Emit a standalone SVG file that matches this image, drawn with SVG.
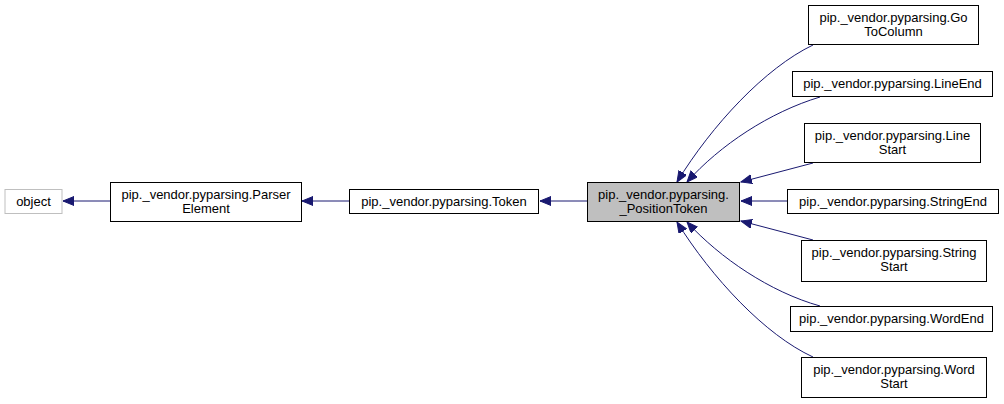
<svg xmlns="http://www.w3.org/2000/svg" width="1004" height="404" viewBox="0 0 1004 404">
<style>
  .box { fill: #ffffff; stroke: #000000; stroke-width: 1; }
  .gray { fill: #bfbfbf; stroke: #000000; stroke-width: 1; }
  .obj { fill: #ffffff; stroke: #bfbfbf; stroke-width: 1; }
  text { font-family: "Liberation Sans", Arial, sans-serif; font-size: 13px; fill: #000000; text-anchor: middle; }
  .edge { fill: none; stroke: #191970; stroke-width: 1; marker-end: url(#arr); }
</style>
<defs>
  <marker id="arr" markerUnits="userSpaceOnUse" markerWidth="12" markerHeight="10" refX="11" refY="4.5" orient="auto">
    <path d="M0,0 L11,4.5 L0,9 z" fill="#191970" stroke="#191970" stroke-width="1"/>
  </marker>
</defs>
<rect width="1004" height="404" fill="#ffffff"/>
<g id="edges">
  <path class="edge" d="M110,201 L63,201"/>
  <path class="edge" d="M349,201 L302,201"/>
  <path class="edge" d="M587,201 L540,201"/>
  <path class="edge" d="M813,45 C765,68 712,125 677,182"/>
  <path class="edge" d="M820,97 C770,112 720,145 687,182"/>
  <path class="edge" d="M813,163 L741,182"/>
  <path class="edge" d="M787,201 L741,201"/>
  <path class="edge" d="M813,240 L741,221"/>
  <path class="edge" d="M820,306 C770,292 720,258 687,222"/>
  <path class="edge" d="M813,357 C765,335 712,278 677,222"/>
</g>
<g id="node_object">
  <rect class="obj" x="5" y="189.5" width="57" height="24"/>
  <text x="33.5" y="206">object</text>
</g>
<g id="node_ParserElement">
  <rect class="box" x="110.5" y="182.5" width="191" height="39"/>
  <text x="206" y="199">pip._vendor.pyparsing.Parser</text>
  <text x="206" y="212.5">Element</text>
</g>
<g id="node_Token">
  <rect class="box" x="349.5" y="189.5" width="189" height="24"/>
  <text x="444" y="206">pip._vendor.pyparsing.Token</text>
</g>
<g id="node_PositionToken">
  <rect class="gray" x="587.5" y="182.5" width="152" height="39"/>
  <text x="663.5" y="199">pip._vendor.pyparsing.</text>
  <text x="663.5" y="212.5">_PositionToken</text>
</g>
<g id="node_GoToColumn">
  <rect class="box" x="808.5" y="5.5" width="170" height="39"/>
  <text x="893.5" y="22">pip._vendor.pyparsing.Go</text>
  <text x="893.5" y="35.5">ToColumn</text>
</g>
<g id="node_LineEnd">
  <rect class="box" x="792.5" y="71.5" width="200" height="25"/>
  <text x="892.5" y="88">pip._vendor.pyparsing.LineEnd</text>
</g>
<g id="node_LineStart">
  <rect class="box" x="804.5" y="123.5" width="176" height="39"/>
  <text x="892.5" y="140">pip._vendor.pyparsing.Line</text>
  <text x="892.5" y="153.5">Start</text>
</g>
<g id="node_StringEnd">
  <rect class="box" x="787.5" y="189.5" width="211" height="24"/>
  <text x="893" y="206">pip._vendor.pyparsing.StringEnd</text>
</g>
<g id="node_StringStart">
  <rect class="box" x="801.5" y="240.5" width="185" height="41"/>
  <text x="894" y="257">pip._vendor.pyparsing.String</text>
  <text x="894" y="270.5">Start</text>
</g>
<g id="node_WordEnd">
  <rect class="box" x="790.5" y="306.5" width="202" height="25"/>
  <text x="891.5" y="323">pip._vendor.pyparsing.WordEnd</text>
</g>
<g id="node_WordStart">
  <rect class="box" x="801.5" y="357.5" width="185" height="40"/>
  <text x="894" y="374">pip._vendor.pyparsing.Word</text>
  <text x="894" y="387.5">Start</text>
</g>
</svg>
